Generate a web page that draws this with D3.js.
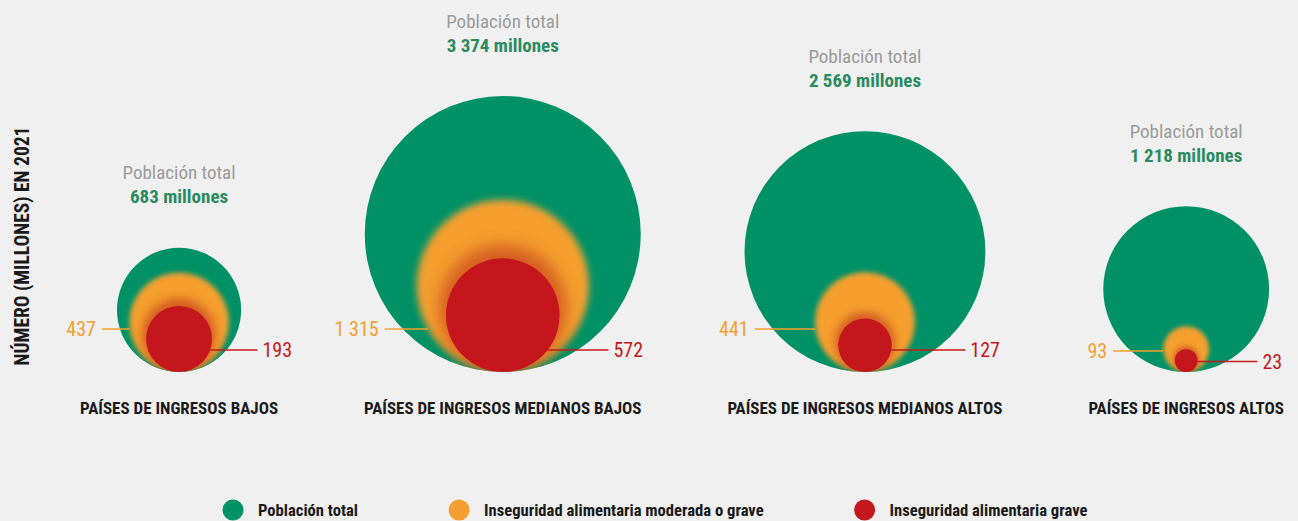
<!DOCTYPE html>
<html>
<head>
<meta charset="utf-8">
<script src="https://cdn.jsdelivr.net/npm/d3@7"></script>
<style>
  body { margin: 0; background: #f0f0f0; }
  svg { display: block; font-family: "Roboto Condensed", "Open Sans", sans-serif; }
  .cat-label { font-weight: 700; font-size: 17px; fill: #1a1a1a; }
  .axis-title { font-weight: 700; font-size: 19.5px; fill: #1a1a1a; }
  .pop-title { font-size: 19px; fill: #9b9b9b; }
  .pop-value { font-size: 19px; font-weight: 700; fill: #2a8a60; }
  .val-label { font-size: 20px; }
  .legend-text { font-weight: 700; font-size: 16.6px; fill: #1a1a1a; }
</style>
</head>
<body>
<svg id="chart" width="1298" height="521"></svg>
<script>
// Data (millones de personas, 2021)
const categories = [
  'PAÍSES DE INGRESOS BAJOS',
  'PAÍSES DE INGRESOS MEDIANOS BAJOS',
  'PAÍSES DE INGRESOS MEDIANOS ALTOS',
  'PAÍSES DE INGRESOS ALTOS',
];
const totalPopulation = [683, 3374, 2569, 1218];
const moderateOrSevere = [437, 1315, 441, 93];
const severe = [193, 572, 127, 23];
const legendLabels = [
  'Población total',
  'Inseguridad alimentaria moderada o grave',
  'Inseguridad alimentaria grave',
];
const axisTitle = 'NÚMERO (MILLONES) EN 2021';

// Layout constants
const CONFIG = {
  baseY: 372,          // circles sit on this line
  maxRadius: 138,
  labelLeft: 80,
  labelRight: 1284,
  catLabelY: 414,
  legendY: 510,
  legendStart: 222,
  legendGap: 90,
  modLabelY: 329,
  sevLabelY: 350,
};

const COLORS = {
  total: '#009166',
  moderate: '#f49f2f',
  severe: '#c4181c',
  halo: '#c9421f',
};

const fmt = d3.formatLocale({ decimal: ',', thousands: '\u00a0', grouping: [3] }).format(',d');

const svg = d3.select('#chart');
const defs = svg.append('defs');

const rScale = d3.scaleSqrt()
  .domain([0, d3.max(totalPopulation)])
  .range([0, CONFIG.maxRadius]);

// Category labels first, so circles can be centred on them
const catLabels = svg.append('g').attr('class', 'cat-labels')
  .selectAll('text')
  .data(categories)
  .join('text')
  .attr('class', 'cat-label')
  .attr('text-anchor', 'middle')
  .attr('y', CONFIG.catLabelY)
  .text(d => d);

// Spread labels with equal gaps across the available width
const widths = catLabels.nodes().map(n => n.getComputedTextLength());
const gap = (CONFIG.labelRight - CONFIG.labelLeft - d3.sum(widths)) / (categories.length - 1);
const centers = [];
let cursor = CONFIG.labelLeft;
widths.forEach(w => {
  centers.push(cursor + w / 2);
  cursor += w + gap;
});
catLabels.attr('x', (d, i) => centers[i]);

// Groups of nested circles
const groups = categories.map((c, i) => {
  const cx = centers[i];
  const rT = rScale(totalPopulation[i]);
  const rM = rScale(moderateOrSevere[i]);
  const rS = rScale(severe[i]);
  return {
    i, cx, rT, rM, rS,
    cyT: CONFIG.baseY - rT,
    cyM: CONFIG.baseY - rM,
    cyS: CONFIG.baseY - rS,
  };
});

// half chord of a circle at height y
function halfChord(r, cy, y) {
  return Math.sqrt(Math.max(0, r * r - (y - cy) ** 2));
}

const bubbles = svg.append('g').attr('class', 'bubbles');

groups.forEach(g => {
  const clipId = `clip-${g.i}`;
  defs.append('clipPath').attr('id', clipId)
    .append('circle')
    .attr('cx', g.cx).attr('cy', g.cyT).attr('r', g.rT);

  const blurM = defs.append('filter').attr('id', `blur-m-${g.i}`)
    .attr('x', '-50%').attr('y', '-50%').attr('width', '200%').attr('height', '200%');
  blurM.append('feGaussianBlur').attr('stdDeviation', 1.2 + g.rM * 0.03);

  const blurS = defs.append('filter').attr('id', `blur-s-${g.i}`)
    .attr('x', '-80%').attr('y', '-80%').attr('width', '260%').attr('height', '260%');
  blurS.append('feGaussianBlur').attr('stdDeviation', 1.5 + g.rS * 0.1);

  const soft = defs.append('filter').attr('id', `soft-${g.i}`)
    .attr('x', '-20%').attr('y', '-20%').attr('width', '140%').attr('height', '140%');
  soft.append('feGaussianBlur').attr('stdDeviation', 0.7);

  const grp = bubbles.append('g');

  grp.append('circle')
    .attr('cx', g.cx).attr('cy', g.cyT).attr('r', g.rT)
    .attr('fill', COLORS.total);

  const inner = grp.append('g').attr('clip-path', `url(#${clipId})`);

  inner.append('circle')
    .attr('cx', g.cx).attr('cy', g.cyM).attr('r', g.rM)
    .attr('fill', COLORS.moderate)
    .attr('filter', `url(#blur-m-${g.i})`);

  // reddish glow around the severe circle
  const haloR = g.rS * 1.12;
  inner.append('circle')
    .attr('cx', g.cx).attr('cy', CONFIG.baseY - haloR).attr('r', haloR)
    .attr('fill', COLORS.halo)
    .attr('opacity', 0.7)
    .attr('filter', `url(#blur-s-${g.i})`);

  inner.append('circle')
    .attr('cx', g.cx).attr('cy', g.cyS).attr('r', g.rS)
    .attr('fill', COLORS.severe)
    .attr('filter', `url(#soft-${g.i})`);
});

// Value labels with leader lines
const labels = svg.append('g').attr('class', 'value-labels');

groups.forEach(g => {
  // moderate or severe: left side
  const yM = Math.max(CONFIG.modLabelY, g.cyM + 2);
  const edgeM = g.cx - halfChord(g.rM, g.cyM, yM);
  const textEndM = g.cx - halfChord(g.rT, g.cyT, yM) - 24;
  labels.append('line')
    .attr('x1', textEndM + 6).attr('x2', edgeM)
    .attr('y1', yM).attr('y2', yM)
    .attr('stroke', COLORS.moderate).attr('stroke-width', 1.5);
  labels.append('text')
    .attr('class', 'val-label')
    .attr('x', textEndM).attr('y', yM).attr('dy', '0.35em')
    .attr('text-anchor', 'end')
    .attr('fill', COLORS.moderate)
    .text(fmt(moderateOrSevere[g.i]));

  // severe: right side
  const yS = Math.max(CONFIG.sevLabelY, g.cyS + 1);
  const edgeS = g.cx + halfChord(g.rS, g.cyS, yS);
  const textStartS = g.cx + halfChord(g.rT, g.cyT, yS) + 36;
  labels.append('line')
    .attr('x1', edgeS).attr('x2', textStartS - 5)
    .attr('y1', yS).attr('y2', yS)
    .attr('stroke', COLORS.severe).attr('stroke-width', 1.5);
  labels.append('text')
    .attr('class', 'val-label')
    .attr('x', textStartS).attr('y', yS).attr('dy', '0.35em')
    .attr('fill', COLORS.severe)
    .text(fmt(severe[g.i]));

  // total population title above each circle
  const top = CONFIG.baseY - 2 * g.rT;
  labels.append('text')
    .attr('class', 'pop-title')
    .attr('x', g.cx).attr('y', top - 68.5)
    .attr('text-anchor', 'middle')
    .text('Población total');
  labels.append('text')
    .attr('class', 'pop-value')
    .attr('x', g.cx).attr('y', top - 44.5)
    .attr('text-anchor', 'middle')
    .text(`${fmt(totalPopulation[g.i])} millones`);
});

// Vertical axis title
svg.append('text')
  .attr('class', 'axis-title')
  .attr('transform', 'translate(29, 246) rotate(-90)')
  .attr('text-anchor', 'middle')
  .text(axisTitle);

// Legend
const legendColors = [COLORS.total, COLORS.moderate, COLORS.severe];
const legend = svg.append('g').attr('class', 'legend');
let lx = CONFIG.legendStart;
legendLabels.forEach((label, i) => {
  const item = legend.append('g').attr('transform', `translate(${lx}, ${CONFIG.legendY})`);
  item.append('circle')
    .attr('cx', 11).attr('cy', 0).attr('r', 10.5)
    .attr('fill', legendColors[i]);
  const t = item.append('text')
    .attr('class', 'legend-text')
    .attr('x', 36).attr('y', 0).attr('dy', '0.35em')
    .text(label);
  lx += 36 + t.node().getComputedTextLength() + CONFIG.legendGap;
});
</script>
</body>
</html>
